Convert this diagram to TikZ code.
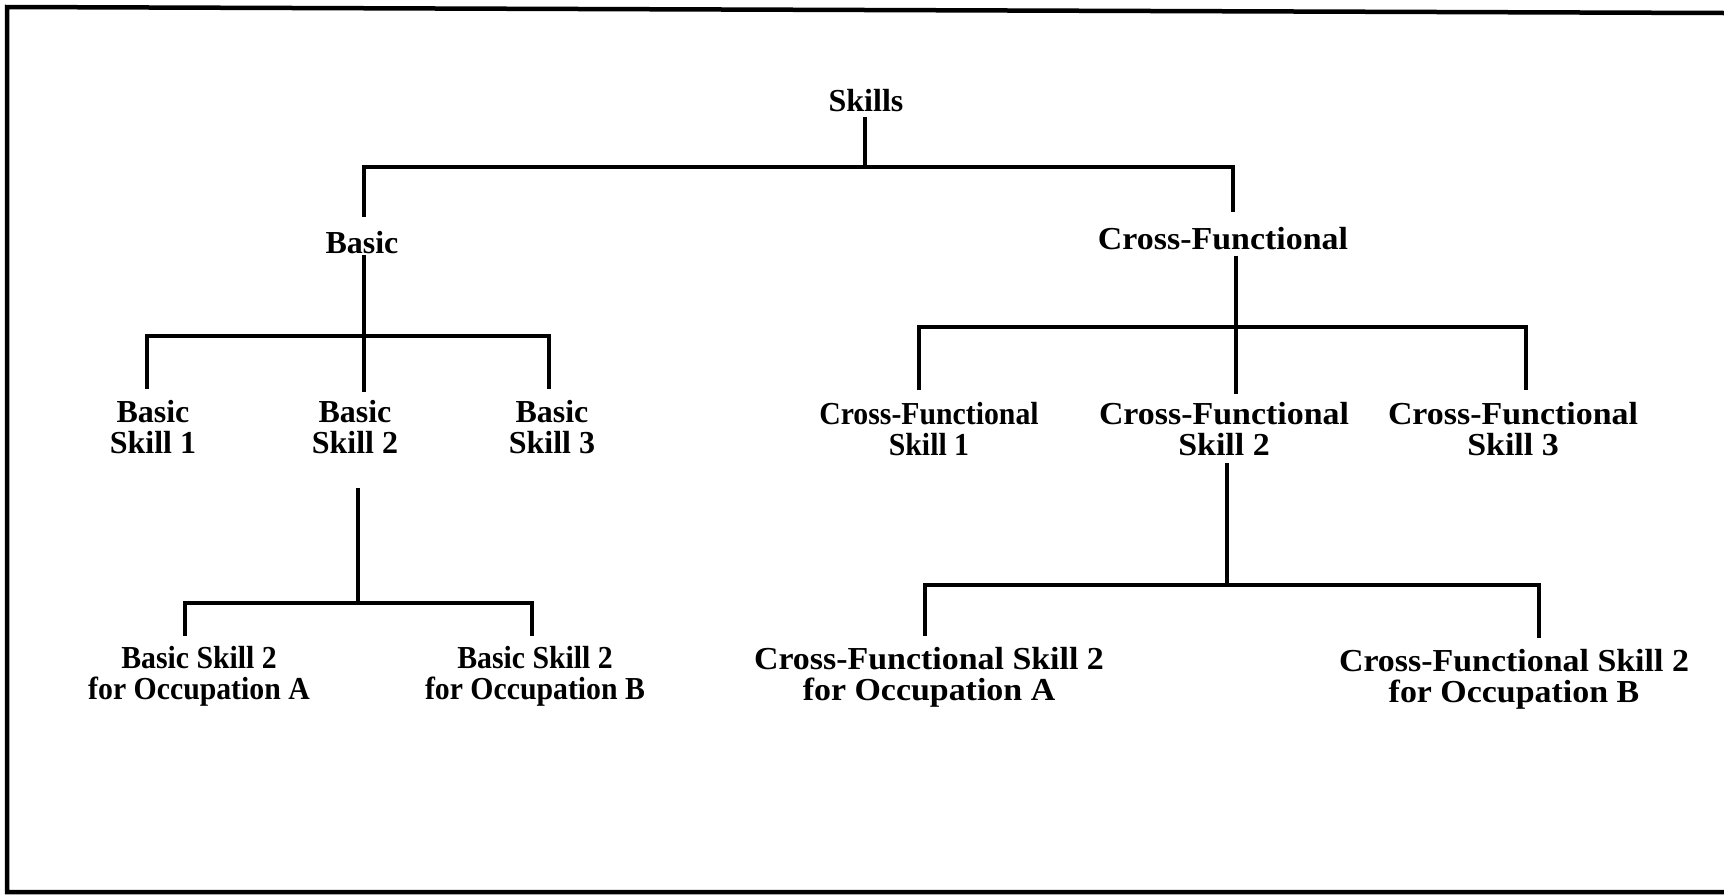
\documentclass[tikz,border=0pt]{standalone}
\usepackage{fontspec}
\setmainfont{Liberation Serif}
\newfontfamily\narrowface{Liberation Serif}[FakeStretch=0.93]
\newfontfamily\wideface{Liberation Serif}[FakeStretch=1.06]
\begin{document}
\begin{tikzpicture}[x=1pt,y=-1pt,
  lbl/.style={font=\fontsize{32}{31}\selectfont\bfseries, align=center, inner sep=0pt},
  lblnarrow/.style={lbl, font=\fontsize{32}{31}\selectfont\narrowface\bfseries},
  lblwide/.style={lbl, font=\fontsize{32}{31}\selectfont\wideface\bfseries},
  link/.style={line width=4.5pt, line cap=butt},
  frame/.style={line width=4.5pt}]
\useasboundingbox (0,0) rectangle (1724,895);

% outer frame (open on the right)
\draw[frame] (1724,13) -- (7,7) -- (7,892) -- (1724,892);

% labels
\node[lbl]     (skills) at (866,101) {Skills};
\node[lbl]     (basic)  at (362,243) {Basic};
\node[lblwide] (cross)  at (1223,239) {Cross-Functional};

\node[lbl] (b1) at (153,427) {Basic\\Skill 1};
\node[lbl] (b2) at (355,427) {Basic\\Skill 2};
\node[lbl] (b3) at (552,427) {Basic\\Skill 3};

\node[lblnarrow] (c1) at (929,429) {Cross-Functional\\Skill 1};
\node[lblwide]   (c2) at (1224,429) {Cross-Functional\\Skill 2};
\node[lblwide]   (c3) at (1513,429) {Cross-Functional\\Skill 3};

\node[lblnarrow] (b2a) at (199,676) {Basic Skill 2\\for Occupation A};
\node[lblnarrow] (b2b) at (535,676) {Basic Skill 2\\for Occupation B};
\node[lblwide]   (c2a) at (929,677) {Cross-Functional Skill 2\\for Occupation A};
\node[lblwide]   (c2b) at (1514,679) {Cross-Functional Skill 2\\for Occupation B};

% junction points on the horizontal bars
\coordinate (j1) at (865,167);
\coordinate (j2) at (364,336);
\coordinate (j3) at (1236,327);
\coordinate (j4) at (358,603);
\coordinate (j5) at (1227,585);

% Skills -> Basic, Cross-Functional
\draw[link, shorten <=5pt] (skills.south -| j1) -- (j1);
\draw[link, shorten >=15pt] (j1) -| ([xshift=2pt]basic.north);
\draw[link, shorten >=16pt] (j1) -| ([xshift=10pt]cross.north);

% Basic -> Basic Skill 1..3
\draw[link, shorten <=1pt, shorten >=8pt] (basic.south -| j2) -- (j2 |- b2.north);
\draw[link, shorten >=11pt] (j2) -| ([xshift=-6pt]b1.north);
\draw[link, shorten >=11pt] (j2) -| ([xshift=-3pt]b3.north);

% Cross-Functional -> Cross-Functional Skill 1..3
\draw[link, shorten <=5pt, shorten >=8pt] (cross.south -| j3) -- (j3 |- c2.north);
\draw[link, shorten >=12pt] (j3) -| ([xshift=-10pt]c1.north);
\draw[link, shorten >=12pt] (j3) -| ([xshift=13pt]c3.north);

% Basic Skill 2 -> occupations
\draw[link, shorten <=34pt] (b2.south -| j4) -- (j4);
\draw[link, shorten >=10pt] (j4) -| ([xshift=-14pt]b2a.north);
\draw[link, shorten >=10pt] (j4) -| ([xshift=-3pt]b2b.north);

% Cross-Functional Skill 2 -> occupations
\draw[link, shorten <=7pt] (c2.south -| j5) -- (j5);
\draw[link, shorten >=11pt] (j5) -| ([xshift=-4pt]c2a.north);
\draw[link, shorten >=11pt] (j5) -| ([xshift=25pt]c2b.north);
\end{tikzpicture}
\end{document}
